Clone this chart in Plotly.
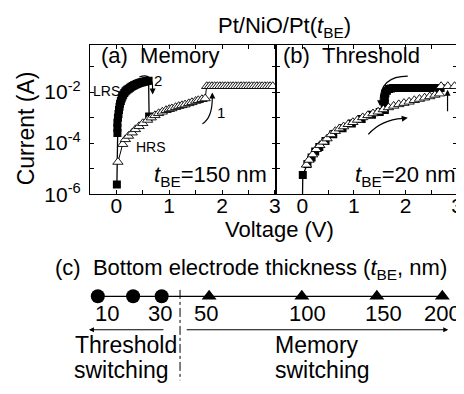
import plotly.graph_objects as go

W, H = 464, 394
FONT = "Liberation Sans, Arial, Helvetica, sans-serif"

# ---------------- data ----------------
# (a) memory switching, t_BE = 150 nm
a_lrs_v = [0.01, 0.02, 0.02, 0.02, 0.03, 0.04, 0.05, 0.06, 0.07, 0.085, 0.10, 0.115,
           0.13, 0.15, 0.17, 0.19, 0.21, 0.235, 0.26, 0.285, 0.31, 0.335, 0.36, 0.385,
           0.41, 0.435, 0.46, 0.485, 0.51, 0.535, 0.56, 0.585, 0.61, 0.62]
a_lrs_i = [2.4e-6, 2.5e-4, 4.0e-4, 6.3e-4, 1.0e-3, 1.4e-3, 2.0e-3, 2.7e-3, 3.5e-3,
           4.5e-3, 5.6e-3, 6.8e-3, 7.9e-3, 9.2e-3, 1.05e-2, 1.15e-2, 1.26e-2, 1.37e-2,
           1.48e-2, 1.61e-2, 1.74e-2, 1.85e-2, 1.95e-2, 2.07e-2, 2.19e-2, 2.30e-2,
           2.40e-2, 2.45e-2, 2.51e-2, 2.60e-2, 2.69e-2, 2.75e-2, 2.82e-2, 1.1e-3]
a_hrs_v = [0.03, 0.12, 0.17, 0.23, 0.30, 0.36, 0.43, 0.50, 0.59, 0.66, 0.73, 0.80,
           0.87, 0.94, 1.00, 1.05, 1.12, 1.18, 1.24, 1.30, 1.37, 1.43, 1.50, 1.55,
           1.62, 1.68, 1.71, 1.76, 1.81, 1.86, 1.91, 1.96, 2.01, 2.06, 2.11, 2.16,
           2.21, 2.26, 2.31, 2.36, 2.41, 2.46, 2.51, 2.56, 2.61, 2.66, 2.71, 2.76,
           2.81, 2.86, 2.91, 2.96]
a_hrs_i = [1.82e-5, 9.1e-5, 1.41e-4, 1.91e-4, 2.57e-4, 3.47e-4, 4.57e-4, 6.0e-4,
           8.1e-4, 1.0e-3, 1.23e-3, 1.48e-3, 1.70e-3, 1.95e-3, 2.14e-3, 2.29e-3,
           2.57e-3, 2.82e-3, 3.02e-3, 3.24e-3, 3.63e-3, 3.98e-3, 4.47e-3, 4.79e-3,
           5.25e-3, 5.62e-3, 1.7e-2, 1.7e-2, 1.7e-2, 1.7e-2, 1.7e-2, 1.7e-2, 1.7e-2,
           1.7e-2, 1.7e-2, 1.7e-2, 1.7e-2, 1.7e-2, 1.7e-2, 1.7e-2, 1.7e-2, 1.7e-2,
           1.7e-2, 1.7e-2, 1.7e-2, 1.7e-2, 1.7e-2, 1.7e-2, 1.7e-2, 1.7e-2, 1.7e-2,
           1.7e-2]

# (b) threshold switching, t_BE = 20 nm
b_sq_v = [0.0, 0.01, 0.10, 0.18, 0.25, 0.33, 0.45, 0.60, 0.78, 0.96, 1.15, 1.35,
          1.50, 1.60, 1.60, 1.60, 1.61, 1.64, 1.68, 1.72, 1.76, 1.80, 1.84, 1.88,
          1.92, 1.96, 2.00, 2.04, 2.08, 2.12, 2.16, 2.20, 2.24, 2.28, 2.32, 2.36,
          2.40, 2.44, 2.48, 2.52, 2.56, 2.60, 2.64, 2.68]
b_sq_i = [2.0e-7, 5.6e-6, 1.51e-5, 2.75e-5, 4.68e-5, 7.1e-5, 1.2e-4, 2.24e-4,
          3.8e-4, 5.9e-4, 8.9e-4, 1.29e-3, 1.66e-3, 2.0e-3, 3.5e-3, 6.3e-3, 8.9e-3,
          1.12e-2, 1.32e-2, 1.4e-2, 1.45e-2, 1.45e-2, 1.45e-2, 1.45e-2, 1.45e-2,
          1.45e-2, 1.45e-2, 1.45e-2, 1.45e-2, 1.45e-2, 1.45e-2, 1.45e-2, 1.45e-2,
          1.45e-2, 1.45e-2, 1.45e-2, 1.45e-2, 1.45e-2, 1.45e-2, 1.45e-2, 1.45e-2,
          1.45e-2, 1.45e-2, 1.45e-2]
b_tri_v = [0.08, 0.13, 0.20, 0.27, 0.34, 0.41, 0.48, 0.56, 0.64, 0.72, 0.80, 0.89,
           0.98, 1.07, 1.17, 1.27, 1.37, 1.47, 1.57, 1.67, 1.77, 1.87, 1.97, 2.07,
           2.17, 2.27, 2.37, 2.47, 2.57, 2.66, 2.69, 2.82, 2.95]
b_tri_i = [1.41e-5, 2.19e-5, 3.55e-5, 5.75e-5, 8.3e-5, 1.12e-4, 1.51e-4, 2.19e-4,
           2.95e-4, 3.72e-4, 4.47e-4, 5.5e-4, 6.6e-4, 8.1e-4, 1.02e-3, 1.23e-3,
           1.45e-3, 1.70e-3, 2.09e-3, 2.51e-3, 2.88e-3, 3.31e-3, 3.72e-3, 4.17e-3,
           4.79e-3, 5.37e-3, 6.03e-3, 6.76e-3, 7.76e-3, 8.71e-3, 1.7e-2, 1.7e-2,
           1.7e-2]

# (c) bottom electrode thickness map
thickness_nm = [10, 20, 30, 50, 100, 150, 200]
switching_type = ["threshold", "threshold", "threshold", "memory", "memory", "memory", "memory"]
thickness_labels = ["10", "", "30", "50", "100", "150", "200"]

x_tickvals = [0, 0.5, 1, 1.5, 2, 2.5, 3]
x_ticktext = ["0", "", "1", "", "2", "", "3"]
y_tickvals = [1e-6, 1e-5, 1e-4, 1e-3, 1e-2, 1e-1]
y_ticktext = ["10<sup>-6</sup>", "", "10<sup>-4</sup>", "", "10<sup>-2</sup>", ""]


# ---------------- helpers ----------------
def px(x):
    return x / W


def py(y):
    return 1 - y / H


fig = go.Figure()

sq_style = dict(symbol="square", size=8, color="black", opacity=1,
                line=dict(color="black", width=0))
tri_style = dict(symbol="triangle-up", size=9, color="white", opacity=1,
                 line=dict(color="black", width=0.9))

fig.add_trace(go.Scatter(x=a_lrs_v, y=a_lrs_i, mode="lines+markers", xaxis="x", yaxis="y",
                         line=dict(color="black", width=1.3), marker=sq_style))
fig.add_trace(go.Scatter(x=a_hrs_v, y=a_hrs_i, mode="lines+markers", xaxis="x", yaxis="y",
                         line=dict(color="black", width=1), marker=tri_style))
fig.add_trace(go.Scatter(x=b_sq_v, y=b_sq_i, mode="lines+markers", xaxis="x2", yaxis="y2",
                         line=dict(color="black", width=1.3), marker=sq_style))
fig.add_trace(go.Scatter(x=b_tri_v, y=b_tri_i, mode="lines+markers", xaxis="x2", yaxis="y2",
                         line=dict(color="black", width=1), marker=tri_style))

# panel (c): schematic power-scaled thickness axis
POW = 0.6
c_x = [t ** POW for t in thickness_nm]
c_sym = ["circle" if s == "threshold" else "triangle-up" for s in switching_type]
c_size = [14 if s == "threshold" else 13 for s in switching_type]
fig.add_trace(go.Scatter(x=c_x, y=[0] * len(c_x), mode="lines+markers", xaxis="x3", yaxis="y3",
                         line=dict(color="black", width=1.2),
                         marker=dict(symbol=c_sym, size=c_size, color="black", opacity=1,
                                     line=dict(width=0, color="black"))))

u10, u200 = 10 ** POW, 200 ** POW
p10, p200 = 91.0, 440.0
sc = (p200 - p10) / (u200 - u10)
x3_range = [u10 - p10 / sc, u10 + (W - p10) / sc]

ydom = [py(191.5), py(38)]
axis_common = dict(showline=True, linecolor="black", linewidth=1, mirror="ticks",
                   ticks="inside", ticklen=4, tickwidth=1, tickcolor="black",
                   showgrid=False, zeroline=False,
                   tickfont=dict(family=FONT, size=21, color="black"))

fig.update_layout(
    width=W, height=H, margin=dict(l=0, r=0, t=0, b=0),
    paper_bgcolor="white", plot_bgcolor="white", showlegend=False,
    font=dict(family=FONT, color="black"),
    xaxis=dict(domain=[px(83), px(272)], range=[-0.5, 3.03], anchor="y",
               tickvals=x_tickvals, ticktext=x_ticktext, ticklabelstandoff=-7,
               **axis_common),
    yaxis=dict(domain=ydom, type="log", range=[-6, -0.15], anchor="x",
               tickvals=y_tickvals, ticktext=y_ticktext, ticklabelstandoff=4,
               **axis_common),
    xaxis2=dict(domain=[px(272), px(455)], range=[-0.5, 3.0], anchor="y2",
                tickvals=x_tickvals, ticktext=x_ticktext, ticklabelstandoff=-7,
                **axis_common),
    yaxis2=dict(domain=ydom, type="log", range=[-6, -0.15], anchor="x2",
                tickvals=y_tickvals, ticktext=y_ticktext, showticklabels=False,
                **axis_common),
    xaxis3=dict(domain=[0, 1], range=x3_range, visible=False, anchor="y3"),
    yaxis3=dict(domain=[py(346.6), py(246.6)], range=[-1, 1], visible=False, anchor="x3"),
)

ann = []


def text(x, y, s, size=22, xanchor="center", yanchor="middle", **kw):
    ann.append(dict(x=px(x), y=py(y), xref="paper", yref="paper", text=s, showarrow=False,
                    xanchor=xanchor, yanchor=yanchor,
                    font=dict(family=FONT, size=size, color="black"), **kw))


def head(x, y, ax, ay):
    ann.append(dict(x=px(x), y=py(y), xref="paper", yref="paper", text="", showarrow=True,
                    ax=ax, ay=ay, arrowhead=2, arrowsize=1, arrowwidth=1.2,
                    arrowcolor="black"))


text(280, 20, "Pt/NiO/Pt(<i>t</i><sub>BE</sub>)", size=22)
text(18, 124, "Current (A)", size=23, textangle=-90)
text(275, 228, "Voltage (V)", size=22)
text(92, 49, "(a)\u00a0\u00a0Memory", size=22, xanchor="left")
text(277, 49, "(b)\u00a0\u00a0Threshold", size=22, xanchor="left")
text(146, 173, "<i>t</i><sub>BE</sub>=150 nm", size=22, xanchor="left")
text(456, 173, "<i>t</i><sub>BE</sub>=20 nm", size=22, xanchor="right")
text(100, 85, "LRS", size=14)
text(144.5, 143, "HRS", size=14)
text(152, 75, "2", size=15)
text(216, 107, "1", size=15)

# panel (c) text
text(46, 268, "(c)\u00a0\u00a0Bottom electrode thickness (<i>t</i><sub>BE</sub>, nm)", size=22,
     xanchor="left")
for lab, xc in zip(thickness_labels, [100, 0, 154, 201, 303, 380, 440]):
    if lab:
        text(xc, 314, lab, size=22)
text(66, 347, "Threshold", size=23, xanchor="left")
text(65, 372, "switching", size=23, xanchor="left")
text(268, 347, "Memory", size=23, xanchor="left")
text(268, 372, "switching", size=23, xanchor="left")

# arrows in panel (c)
ann.append(dict(x=px(82), y=py(331), xref="paper", yref="paper", text="", showarrow=True,
                ax=158 - 82, ay=0, arrowhead=2, arrowsize=1, arrowwidth=1, arrowcolor="black"))
ann.append(dict(x=px(446), y=py(331), xref="paper", yref="paper", text="", showarrow=True,
                ax=183 - 446, ay=0, arrowhead=2, arrowsize=1, arrowwidth=1, arrowcolor="black"))

# arrow heads for curved arrows
head(146.5, 89, 0, -7)
head(207, 87, 0, 7)
head(377, 101, 0, -7)
head(405, 113, -7, 1)
head(445.3, 84, 0, 23)

fig.update_layout(annotations=ann)


def qpath(x0, y0, cx, cy, x1, y1):
    return (f"M {px(x0)},{py(y0)} Q {px(cx)},{py(cy)} {px(x1)},{py(y1)}")


shapes = []
for p in [qpath(133, 71, 147, 66, 146.5, 84),
          qpath(197, 119, 207, 113, 207, 92),
          qpath(405, 70, 377, 70, 377, 96),
          qpath(365, 130, 378, 115, 400, 113.5)]:
    shapes.append(dict(type="path", path=p, xref="paper", yref="paper",
                       line=dict(color="black", width=1.2)))
shapes.append(dict(type="line", xref="paper", yref="paper", x0=px(174.3), x1=px(174.3),
                   y0=py(290), y1=py(383), line=dict(color="black", width=1, dash="dashdot")))
fig.update_layout(shapes=shapes)

fig.write_html("out.html")
